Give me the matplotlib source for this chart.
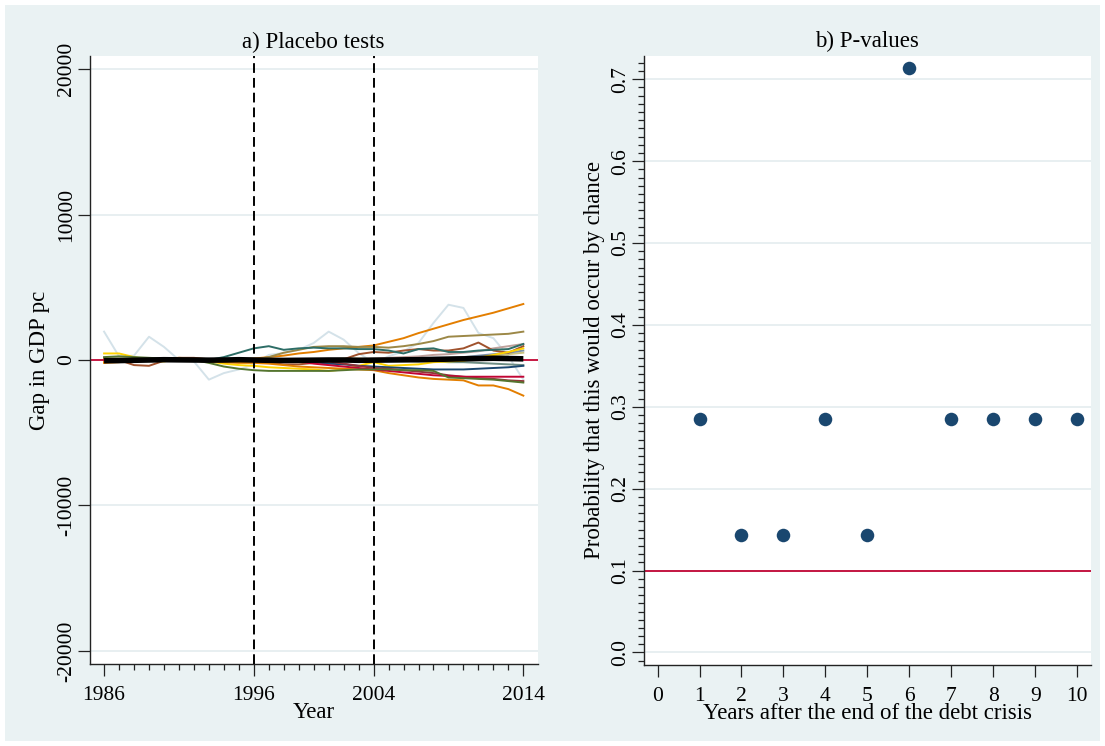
import matplotlib.pyplot as plt
from matplotlib.patches import Rectangle
from matplotlib.ticker import MultipleLocator

plt.rcParams['font.family'] = ['Liberation Serif', 'DejaVu Serif']
plt.rcParams['axes.unicode_minus'] = False

# panel a) gap in GDP pc, treated unit and placebo units, 1986-2014
years = list(range(1986, 2015))

treated = [-50, -40, -20, 0, 20, 10, 0, -10, 0, 20, 0, -20, -30, -20, -10, 0, 0,
           -20, -10, 0, 10, 20, 40, 60, 80, 100, 120, 100, 80]

placebo_bluishgray = [1950, 250, 300, 1600, 900, 0, -100, -1350, -900, -650, -300, 350, 480,
                      700, 1170, 1950, 1400, 480, -200, 250, 600, 1170, 2550, 3800, 3580,
                      1860, 1500, 250, -1350]
placebo_orange_up = [-200, -150, 0, 50, 100, 150, 100, 50, 0, 50, 100, 200, 300, 450, 550,
                     700, 800, 900, 1000, 1250, 1500, 1850, 2150, 2450, 2750, 3000, 3250,
                     3550, 3850]
placebo_brown = [100, 100, 50, 100, 0, 50, 0, -50, -100, -100, 0, 200, 500, 700, 900, 950,
                 950, 900, 900, 850, 950, 1100, 1300, 1600, 1650, 1700, 1750, 1800, 1950]
placebo_sienna = [100, 0, -350, -400, -50, 150, 150, 50, 0, -50, -100, -200, -300, -300,
                  -200, -100, 50, 400, 550, 500, 650, 750, 650, 650, 800, 1200, 650, 500, 950]
placebo_emerald = [0, 50, 50, 0, 0, -50, -50, 0, 200, 500, 800, 950, 700, 800, 850, 800, 800,
                   750, 750, 650, 450, 750, 800, 550, 550, 650, 700, 750, 1100]
placebo_gold = [450, 450, 200, 0, -100, 100, 50, -100, -250, -350, -400, -500, -550, -600,
                -650, -750, -650, -400, -150, -400, -350, -300, -150, -100, -50, 150, 350,
                550, 800]
placebo_green = [200, 250, 200, 150, 100, 50, 0, -200, -450, -600, -700, -750, -750, -750,
                 -750, -750, -700, -650, -650, -650, -700, -700, -750, -1200, -1250, -1300,
                 -1350, -1450, -1550]
placebo_navy = [0, 0, 50, 0, 0, -50, 0, 0, -50, 0, -50, -50, 0, -50, -150, -250, -300, -400,
                -450, -500, -550, -600, -650, -650, -650, -600, -550, -500, -400]
placebo_cranberry = [0, 50, 0, -50, 0, 0, 50, 0, 0, -50, 0, 0, -50, -100, -250, -350, -450,
                     -550, -650, -750, -850, -950, -1050, -1100, -1150, -1150, -1150, -1150,
                     -1150]
placebo_orange_down = [-150, -100, 0, 50, 0, 0, -50, -100, -150, -200, -200, -250, -350,
                       -450, -500, -550, -600, -650, -700, -900, -1050, -1200, -1300, -1350,
                       -1400, -1750, -1750, -2000, -2450]
placebo_maroon = [0, 0, -50, 0, 50, 0, 0, -50, 0, 0, -50, -50, 0, 0, 0, -100, -250, -400,
                  -550, -600, -700, -800, -900, -1050, -1150, -1250, -1300, -1400, -1450]
placebo_erose = [-100, -50, 0, 50, 0, 0, -50, 0, 0, 50, 0, 50, 50, 0, 0, 50, 50, 50, 100,
                 150, 200, 250, 350, 400, 500, 600, 800, 950, 1100]
placebo_emidblue = [50, 0, 0, -50, 0, 50, 0, 0, 50, 0, 0, 0, 50, 50, 0, 0, 0, 50, 50, 50,
                    100, 100, 150, 150, 200, 300, 400, 500, 650]
placebo_teal = [-50, 0, 50, 0, 0, -50, 0, 50, 0, 0, -50, -50, 0, 0, -50, -50, 0, 0, -50,
                -50, -50, -100, -100, -150, -150, -200, -250, -300, -350]
placebo_khaki = [0, 50, 0, 0, 50, 0, 0, 0, 0, -50, -100, -150, -100, -50, 0, 50, 100, 100,
                 50, 0, 0, 50, 100, 150, 200, 250, 300, 400, 500]

placebo_series = [
    (placebo_bluishgray, '#d4e2e9'),
    (placebo_khaki, '#cac27e'),
    (placebo_erose, '#bfa19c'),
    (placebo_emidblue, '#7b92a8'),
    (placebo_teal, '#6e8e84'),
    (placebo_orange_up, '#e37e00'),
    (placebo_brown, '#9c8847'),
    (placebo_sienna, '#a0522d'),
    (placebo_emerald, '#2d6d66'),
    (placebo_gold, '#ffd200'),
    (placebo_navy, '#1a476f'),
    (placebo_maroon, '#90353b'),
    (placebo_orange_down, '#e37e00'),
    (placebo_cranberry, '#c10534'),
    (placebo_green, '#55752f'),
]
crisis_years = [1996, 2004]

# panel b) p-values by years after the debt crisis
years_after = [1, 2, 3, 4, 5, 6, 7, 8, 9, 10]
p_values = [2/7, 1/7, 1/7, 2/7, 1/7, 5/7, 2/7, 2/7, 2/7, 2/7]
p_threshold = 0.1

bg = '#eaf2f3'
grid_col = '#e8eff1'
red = '#c10534'
navy = '#1a476f'
fs_tick = 15.5
fs_text = 16.5

fig = plt.figure(figsize=(11.05, 7.46), dpi=100)
fig.patch.set_facecolor('white')
fig.patches.append(Rectangle((5 / 1105, 5 / 746), 1095 / 1105, 736 / 746,
                             transform=fig.transFigure, facecolor=bg,
                             edgecolor='none', zorder=-10))


def style_axes(ax):
    ax.set_facecolor('white')
    for side in ('top', 'right'):
        ax.spines[side].set_visible(False)
    for side in ('left', 'bottom'):
        ax.spines[side].set_linewidth(1.0)
        ax.spines[side].set_color('#222222')
    ax.tick_params(which='major', length=8.5, width=0.9, color='#222222',
                   labelsize=fs_tick)
    ax.tick_params(which='minor', length=4.5, width=0.9, color='#222222')
    ax.tick_params(axis='x', which='major', pad=7)
    ax.tick_params(axis='y', which='major', pad=1.5)
    for lab in ax.get_yticklabels():
        lab.set_rotation(90)
        lab.set_va('center')


# ---- a) Placebo tests
ax1 = fig.add_axes([89.7 / 1105, (746 - 664) / 746, 448 / 1105, 608 / 746])
for yv in [20000, 10000, -10000, -20000]:
    ax1.axhline(yv, color=grid_col, lw=1.4, zorder=0)
ax1.axhline(0, color=red, lw=1.3, zorder=1)
for vals, col in placebo_series:
    ax1.plot(years, vals, color=col, lw=1.4, zorder=2)
ax1.plot(years, treated, color='black', lw=4, zorder=4, solid_capstyle='butt')
for cy in crisis_years:
    ax1.axvline(cy, color='black', lw=1.4, ls=(0, (5, 2.6)), zorder=5)

ax1.set_xlim(1985.04, 2014.96)
ax1.set_ylim(-20900, 20900)
ax1.set_xticks([1986, 1996, 2004, 2014])
ax1.xaxis.set_minor_locator(MultipleLocator(1))
ax1.set_yticks([-20000, -10000, 0, 10000, 20000])
style_axes(ax1)
ax1.set_title('a) Placebo tests', fontsize=fs_text, pad=6)
ax1.set_xlabel('Year', fontsize=fs_text, labelpad=-1.5)
ax1.set_ylabel('Gap in GDP pc', fontsize=fs_text)
ax1.yaxis.set_label_coords(-0.089, 0.5)

# ---- b) P-values
ax2 = fig.add_axes([643.7 / 1105, (746 - 665) / 746, 447 / 1105, 609.3 / 746])
for yv in [0.0, 0.1, 0.2, 0.3, 0.4, 0.5, 0.6, 0.7]:
    ax2.axhline(yv, color=grid_col, lw=1.4, zorder=0)
ax2.axhline(p_threshold, color=red, lw=1.3, zorder=1)
ax2.scatter(years_after, p_values, s=95, color=navy, zorder=3, linewidths=0)

ax2.set_xlim(-0.33, 10.32)
ax2.set_ylim(-0.0153, 0.7288)
ax2.set_xticks(range(0, 11))
ax2.set_yticks([0.0, 0.1, 0.2, 0.3, 0.4, 0.5, 0.6, 0.7])
ax2.set_yticklabels(['0.0', '0.1', '0.2', '0.3', '0.4', '0.5', '0.6', '0.7'])
ax2.yaxis.set_minor_locator(MultipleLocator(0.01))
style_axes(ax2)
ax2.set_title('b) P-values', fontsize=fs_text, pad=6)
ax2.set_xlabel('Years after the end of the debt crisis', fontsize=fs_text, labelpad=-1.5)
ax2.set_ylabel('Probability that this would occur by chance', fontsize=fs_text)
ax2.yaxis.set_label_coords(-0.087, 0.5)

fig.savefig('out.png', dpi=100, facecolor=fig.get_facecolor())
